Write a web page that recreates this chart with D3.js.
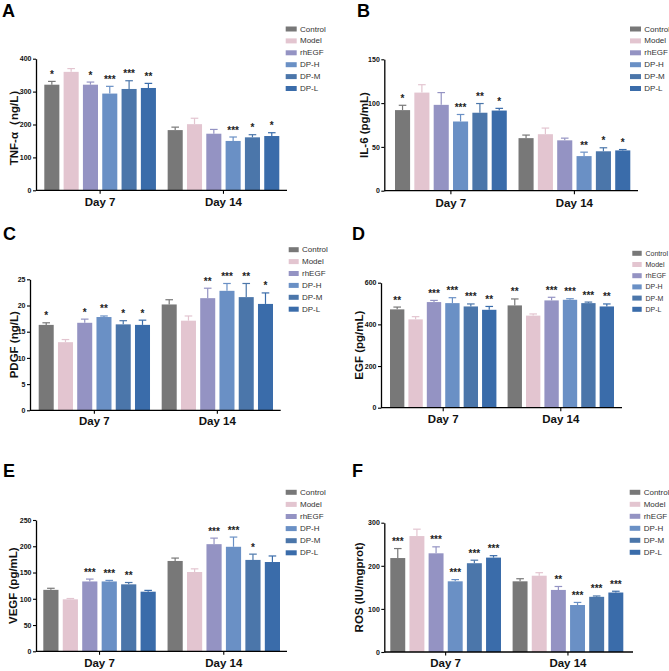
<!DOCTYPE html>
<html><head><meta charset="utf-8">
<script src="https://cdn.jsdelivr.net/npm/d3@7"></script>
<style>body{margin:0;background:#fff}svg{display:block}text{font-family:Arial,"Liberation Sans",sans-serif}</style>
</head><body><svg id="c" width="669" height="671"></svg>
<script>
const categories = ["Day 7", "Day 14"];
const groups = ["Control", "Model", "rhEGF", "DP-H", "DP-M", "DP-L"];
const colors = ["#787878", "#e3c5d0", "#9493c3", "#6a90c5", "#4b76aa", "#3a6caa"];

// A: TNF-α
const tnfDay7 = [321, 360, 321, 294, 308, 311];
const tnfSd7 = [10, 10, 8, 22, 25, 14];
const tnfDay14 = [183, 201, 172, 150, 161, 165];
const tnfSd14 = [9, 18, 13, 12, 8, 10];
const tnfSig7 = ["*", "", "*", "***", "***", "**"];
const tnfSig14 = ["", "", "", "***", "*", "*"];
const tnfTicks = [0, 100, 200, 300, 400];

// B: IL-6
const il6Day7 = [92, 112, 98, 79, 89, 91.5];
const il6Sd7 = [5.5, 9, 14, 8, 10.5, 2.5];
const il6Day14 = [60, 64.5, 57.5, 39.5, 45, 46];
const il6Sd14 = [3.5, 7, 2.5, 4.5, 4, 1];
const il6Sig7 = ["*", "", "", "***", "**", "*"];
const il6Sig14 = ["", "", "", "**", "*", "*"];
const il6Ticks = [0, 50, 100, 150];

// C: PDGF
const pdgfDay7 = [16.3, 13.0, 16.7, 17.8, 16.4, 16.3];
const pdgfSd7 = [0.4, 0.5, 0.7, 0.2, 0.7, 0.9];
const pdgfDay14 = [20.2, 17.1, 21.4, 22.8, 21.6, 20.3];
const pdgfSd14 = [0.9, 0.9, 1.9, 1.4, 2.6, 2.1];
const pdgfSig7 = ["*", "", "*", "**", "*", "*"];
const pdgfSig14 = ["", "", "**", "***", "**", "*"];
const pdgfTicks = [0, 5, 10, 15, 20, 25];

// D: EGF
const egfDay7 = [472, 424, 507, 502, 486, 470];
const egfSd7 = [11, 13, 8, 26, 12, 16];
const egfDay14 = [491, 442, 515, 518, 502, 486];
const egfSd14 = [31, 8, 15, 5, 5, 12];
const egfSig7 = ["**", "", "***", "***", "***", "**"];
const egfSig14 = ["**", "", "***", "***", "***", "**"];
const egfTicks = [0, 200, 400, 600];

// E: VEGF
const vegfDay7 = [117, 99, 133, 133, 127.5, 113.5];
const vegfSd7 = [3, 1.5, 4.5, 2, 3.5, 2.5];
const vegfDay14 = [172, 151, 204, 199, 174, 170];
const vegfSd14 = [5.5, 6, 11.5, 18.5, 11, 11.5];
const vegfSig7 = ["", "", "***", "***", "**", ""];
const vegfSig14 = ["", "", "***", "***", "*", ""];
const vegfTicks = [0, 50, 100, 150, 200, 250];

// F: ROS
const rosDay7 = [218, 269, 229, 164, 206, 219];
const rosSd7 = [22, 16, 15, 4, 7, 4.5];
const rosDay14 = [164, 177, 144, 109, 128, 138];
const rosSd14 = [6, 7, 8, 6, 2, 3];
const rosSig7 = ["***", "", "***", "***", "***", "***"];
const rosSig14 = ["", "", "**", "***", "***", "***"];
const rosTicks = [0, 100, 200, 300];

const panels = [
  {letter:"A", label:"TNF-α（ng/L）", d7:tnfDay7, s7:tnfSd7, d14:tnfDay14, s14:tnfSd14, g7:tnfSig7, g14:tnfSig14, ticks:tnfTicks,
   ax0:36, ax1:287, b0:44.3, b1:279.3, yTop:58.7, yBot:190.3, lx:2, ly:17, labX:14, xlabY:206,
   legSw:285.7, legTx:300, legY:29, legFs:8, legW:11, legDy:11.9},
  {letter:"B", label:"IL-6 (pg/mL)", d7:il6Day7, s7:il6Sd7, d14:il6Day14, s14:il6Sd14, g7:il6Sig7, g14:il6Sig14, ticks:il6Ticks,
   ax0:384.3, ax1:638, b0:395, b1:630.3, yTop:59.3, yBot:190.7, lx:357, ly:17, labX:364, xlabY:207,
   legSw:630, legTx:644.3, legY:29, legFs:8, legW:11, legDy:11.9},
  {letter:"C", label:"PDGF (ng/L)", d7:pdgfDay7, s7:pdgfSd7, d14:pdgfDay14, s14:pdgfSd14, g7:pdgfSig7, g14:pdgfSig14, ticks:pdgfTicks,
   ax0:30, ax1:280.7, b0:38.7, b1:273, yTop:279.3, yBot:410.3, lx:3, ly:240, labX:13.5, xlabY:425,
   legSw:288.7, legTx:302, legY:249.7, legFs:8, legW:10, legDy:11.9},
  {letter:"D", label:"EGF (pg/mL)", d7:egfDay7, s7:egfSd7, d14:egfDay14, s14:egfSd14, g7:egfSig7, g14:egfSig14, ticks:egfTicks,
   ax0:381, ax1:622, b0:390, b1:614, yTop:282.7, yBot:407.7, lx:352, ly:240, labX:359, xlabY:422.5,
   legSw:632.3, legTx:645.5, legY:253.3, legFs:7, legW:9.4, legDy:11.2},
  {letter:"E", label:"VEGF (pg/mL)", d7:vegfDay7, s7:vegfSd7, d14:vegfDay14, s14:vegfSd14, g7:vegfSig7, g14:vegfSig14, ticks:vegfTicks,
   ax0:36, ax1:287, b0:43.3, b1:280, yTop:520, yBot:651.3, lx:3, ly:477, labX:12.5, xlabY:666.5,
   legSw:285.7, legTx:300, legY:492.3, legFs:8, legW:11, legDy:12.1},
  {letter:"F", label:"ROS (IU/mgprot)", d7:rosDay7, s7:rosSd7, d14:rosDay14, s14:rosSd14, g7:rosSig7, g14:rosSig14, ticks:rosTicks,
   ax0:384.3, ax1:633, b0:390.3, b1:623.3, yTop:522.7, yBot:652, lx:352, ly:477, labX:359, xlabY:667,
   legSw:629.7, legTx:643.7, legY:492.3, legFs:8, legW:10.6, legDy:12}
];

const svg = d3.select("#c");

panels.forEach(p => {
  const g = svg.append("g");
  const maxT = p.ticks[p.ticks.length - 1];
  const y = d3.scaleLinear().domain([0, maxT]).range([p.yBot, p.yTop]);
  const x0 = d3.scaleBand().domain(categories).range([p.b0, p.b1]).paddingInner(0.095).paddingOuter(0);
  const x1 = d3.scaleBand().domain(groups).range([0, x0.bandwidth()]).paddingInner(0.22).paddingOuter(0);
  const color = d3.scaleOrdinal().domain(groups).range(colors);

  const rows = [];
  categories.forEach((c, ci) => {
    const vals = ci === 0 ? p.d7 : p.d14;
    const sds = ci === 0 ? p.s7 : p.s14;
    const sig = ci === 0 ? p.g7 : p.g14;
    groups.forEach((s, si) => rows.push({cat:c, ser:s, v:vals[si], sd:sds[si], sig:sig[si]}));
  });

  const bx = d => x0(d.cat) + x1(d.ser);
  const bw = x1.bandwidth();

  // error bars (upper only)
  const eb = g.append("g").selectAll("g").data(rows).join("g")
    .attr("stroke", d => color(d.ser)).attr("stroke-width", 1.2);
  eb.append("line").attr("x1", d => bx(d) + bw/2).attr("x2", d => bx(d) + bw/2)
    .attr("y1", d => y(d.v)).attr("y2", d => y(d.v + d.sd));
  eb.append("line").attr("x1", d => bx(d) + bw/2 - 3.8).attr("x2", d => bx(d) + bw/2 + 3.8)
    .attr("y1", d => y(d.v + d.sd)).attr("y2", d => y(d.v + d.sd));

  // bars
  g.append("g").selectAll("rect").data(rows).join("rect")
    .attr("x", bx).attr("width", bw)
    .attr("y", d => y(d.v)).attr("height", d => y(0) - y(d.v))
    .attr("fill", d => color(d.ser));

  // significance
  g.append("g").selectAll("text").data(rows.filter(d => d.sig)).join("text")
    .attr("x", d => bx(d) + bw/2).attr("y", d => y(d.v + d.sd) - 3.5)
    .attr("text-anchor", "middle").attr("font-size", 10).attr("font-weight", "bold")
    .attr("fill", "#222").text(d => d.sig);

  // y axis
  const ya = g.append("g").attr("transform", `translate(${p.ax0},0)`)
    .call(d3.axisLeft(y).tickValues(p.ticks).tickSize(3).tickPadding(1.5).tickSizeOuter(0));
  ya.select(".domain").attr("stroke", "#000").attr("stroke-width", 1.3);
  ya.selectAll(".tick line").attr("stroke", "#000").attr("stroke-width", 1.1);
  ya.selectAll(".tick text").attr("font-size", 7).attr("font-weight", "bold")
    .attr("font-family", "Arial, 'Liberation Sans', sans-serif").attr("fill", "#111");

  // x axis
  const xa = g.append("g").attr("transform", `translate(0,${p.yBot})`);
  xa.append("line").attr("x1", p.ax0).attr("x2", p.ax1).attr("stroke", "#000").attr("stroke-width", 1.3);
  xa.selectAll("line.t").data(categories).join("line").attr("class", "t")
    .attr("x1", c => x0(c) + x0.bandwidth()/2).attr("x2", c => x0(c) + x0.bandwidth()/2)
    .attr("y1", 0).attr("y2", 3.5).attr("stroke", "#000").attr("stroke-width", 1.1);
  g.selectAll("text.xl").data(categories).join("text").attr("class", "xl")
    .attr("x", c => x0(c) + x0.bandwidth()/2).attr("y", p.xlabY)
    .attr("text-anchor", "middle").attr("font-size", 11.5).attr("font-weight", "bold")
    .attr("fill", "#111").text(c => c);

  // y label
  g.append("text").attr("transform", `translate(${p.labX},${(p.yTop + p.yBot)/2}) rotate(-90)`)
    .attr("text-anchor", "middle").attr("dominant-baseline", "central")
    .attr("font-size", 11.5).attr("font-weight", "bold").attr("fill", "#111").text(p.label);

  // panel letter
  g.append("text").attr("x", p.lx).attr("y", p.ly).attr("font-size", 18)
    .attr("font-weight", "bold").attr("fill", "#000").text(p.letter);

  // legend
  const lg = g.append("g").selectAll("g").data(groups).join("g")
    .attr("transform", (s, i) => `translate(0,${p.legY + i * p.legDy})`);
  lg.append("rect").attr("x", p.legSw).attr("y", -2.5).attr("width", p.legW).attr("height", 5)
    .attr("fill", s => color(s));
  lg.append("text").attr("x", p.legTx).attr("y", 0).attr("dominant-baseline", "central")
    .attr("font-size", p.legFs).attr("fill", "#333").text(s => s);
});
</script></body></html>
